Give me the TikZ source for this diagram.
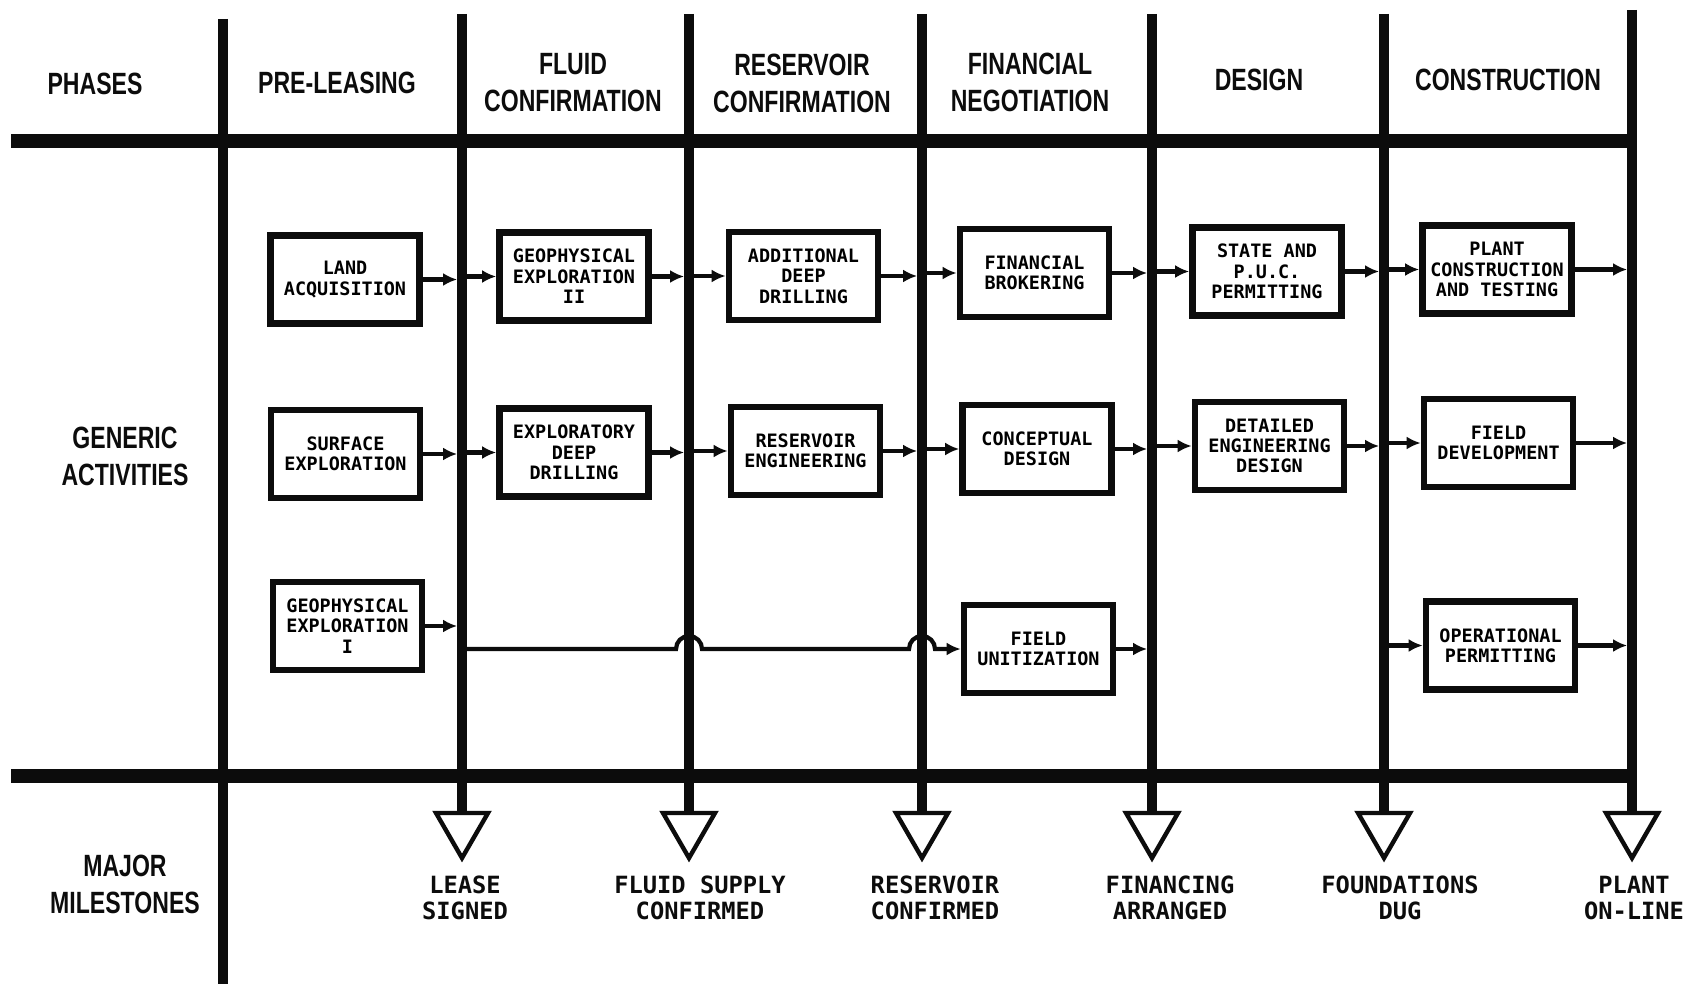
\documentclass[tikz,border=0pt]{standalone}
\usepackage{fontspec}
\usepackage{xcolor}
\usepackage{tikz}
\usetikzlibrary{arrows.meta,positioning,shapes.geometric,calc}
\newfontfamily\phfont[FakeStretch=0.75]{Liberation Sans}
\newfontfamily\actfont{DejaVu Sans Mono}
\definecolor{gtink}{RGB}{12,12,12}
\definecolor{gtpaper}{RGB}{255,255,255}
\tikzset{
  gtbox/.style={draw=gtink, line width=3.8pt, minimum width=2.98cm, minimum height=1.76cm,
    inner sep=1pt, align=center, fill=gtpaper,
    font=\actfont\bfseries\fontsize{10.5}{11.6}\selectfont},
  gtarrow/.style={-{Latex[length=2.8mm,width=2.6mm]}, line width=2.4pt, draw=gtink},
  gtline/.style={line width=5.6pt, draw=gtink},
  gtbar/.style={line width=7.8pt, draw=gtink},
  gthead/.style={align=center, text=gtink,
    font=\phfont\bfseries\fontsize{17.5}{21}\selectfont},
  gtmark/.style={regular polygon, regular polygon sides=3, shape border rotate=180,
    draw=gtink, line width=2.5pt, minimum size=1.2cm, inner sep=0pt},
  gtmile/.style={align=center, text=gtink,
    font=\actfont\bfseries\fontsize{13.5}{14.8}\selectfont}
}

\begin{document}
\begin{tikzpicture}
  \useasboundingbox[fill=gtpaper] (0,0) rectangle (33.90cm,-19.78cm);
  % phase lines and bars
  \coordinate (L0) at (4.46cm,-0.38cm);
  \coordinate (L0b) at (4.46cm,-19.68cm);
  \coordinate (L1) at (9.24cm,-0.28cm);
  \coordinate (L2) at (13.78cm,-0.28cm);
  \coordinate (L3) at (18.44cm,-0.28cm);
  \coordinate (L4) at (23.04cm,-0.28cm);
  \coordinate (L5) at (27.68cm,-0.28cm);
  \coordinate (L6) at (32.64cm,-0.20cm);
  \coordinate (topA) at (0.22cm,-2.82cm);
  \coordinate (topB) at (32.70cm,-2.82cm);
  \coordinate (botA) at (0.22cm,-15.52cm);
  \coordinate (botB) at (32.70cm,-15.52cm);

  % headings
  \node[gthead] (hPh) at (1.90cm,-1.68cm) {PHASES};
  \node[gthead] (hGa) at (2.50cm,-9.12cm) {GENERIC\\ACTIVITIES};
  \node[gthead] (hMm) at (2.50cm,-17.68cm) {MAJOR\\MILESTONES};
  \node[gthead] (pA) at (6.74cm,-1.66cm) {PRE-LEASING};
  \node[gthead] (pB) at (11.46cm,-1.66cm) {FLUID\\CONFIRMATION};
  \node[gthead] (pC) at (16.04cm,-1.66cm) {RESERVOIR\\CONFIRMATION};
  \node[gthead] (pD) at (20.60cm,-1.64cm) {FINANCIAL\\NEGOTIATION};
  \node[gthead] (pE) at (25.18cm,-1.60cm) {DESIGN};
  \node[gthead] (pF) at (30.16cm,-1.60cm) {CONSTRUCTION};

  % milestones
  \node[gtmark] (ms1) at (9.24cm,-16.56cm) {};
  \node[gtmark] (ms2) at (13.78cm,-16.56cm) {};
  \node[gtmark] (ms3) at (18.44cm,-16.56cm) {};
  \node[gtmark] (ms4) at (23.04cm,-16.56cm) {};
  \node[gtmark] (ms5) at (27.68cm,-16.56cm) {};
  \node[gtmark] (ms6) at (32.64cm,-16.56cm) {};
  \node[gtmile] (mt1) at (9.30cm,-17.96cm) {LEASE\\SIGNED};
  \node[gtmile] (mt2) at (14.00cm,-17.96cm) {FLUID SUPPLY\\CONFIRMED};
  \node[gtmile] (mt3) at (18.70cm,-17.96cm) {RESERVOIR\\CONFIRMED};
  \node[gtmile] (mt4) at (23.40cm,-17.96cm) {FINANCING\\ARRANGED};
  \node[gtmile] (mt5) at (28.00cm,-17.96cm) {FOUNDATIONS\\DUG};
  \node[gtmile] (mt6) at (32.68cm,-17.96cm) {PLANT\\ON-LINE};

  \draw[gtline] (L0) -- (L0b);
  \draw[gtline] (L1) -- (ms1.north);
  \draw[gtline] (L2) -- (ms2.north);
  \draw[gtline] (L3) -- (ms3.north);
  \draw[gtline] (L4) -- (ms4.north);
  \draw[gtline] (L5) -- (ms5.north);
  \draw[gtline] (L6) -- (ms6.north);
  \draw[gtbar] (topA) -- (topB);
  \draw[gtbar] (botA) -- (botB);

  % activities
  \node[gtbox] (landacq) at (6.90cm,-5.59cm) {LAND\\ACQUISITION};
  \node[gtbox] (geoii) at (11.48cm,-5.53cm) {GEOPHYSICAL\\EXPLORATION\\II};
  \node[gtbox] (adddrill) at (16.07cm,-5.52cm) {ADDITIONAL\\DEEP\\DRILLING};
  \node[gtbox] (finbrok) at (20.69cm,-5.46cm) {FINANCIAL\\BROKERING};
  \node[gtbox] (pucperm) at (25.34cm,-5.43cm) {STATE AND\\P.U.C.\\PERMITTING};
  \node[gtbox] (plantcon) at (29.94cm,-5.39cm) {PLANT\\CONSTRUCTION\\AND TESTING};
  \node[gtbox] (surfexp) at (6.91cm,-9.08cm) {SURFACE\\EXPLORATION};
  \node[gtbox] (expdrill) at (11.48cm,-9.05cm) {EXPLORATORY\\DEEP\\DRILLING};
  \node[gtbox] (reseng) at (16.11cm,-9.02cm) {RESERVOIR\\ENGINEERING};
  \node[gtbox] (concdes) at (20.74cm,-8.98cm) {CONCEPTUAL\\DESIGN};
  \node[gtbox] (detdes) at (25.39cm,-8.92cm) {DETAILED\\ENGINEERING\\DESIGN};
  \node[gtbox] (fielddev) at (29.97cm,-8.86cm) {FIELD\\DEVELOPMENT};
  \node[gtbox] (geoi) at (6.95cm,-12.52cm) {GEOPHYSICAL\\EXPLORATION\\I};
  \node[gtbox] (fieldunit) at (20.77cm,-12.98cm) {FIELD\\UNITIZATION};
  \node[gtbox] (opperm) at (30.01cm,-12.91cm) {OPERATIONAL\\PERMITTING};

  % row 1
  \draw[gtarrow, shorten >=2.8pt] (landacq.east) -- (landacq.east -| L1);
  \draw[gtarrow] (geoii.west -| L1) -- (geoii.west);
  \draw[gtarrow, shorten >=2.8pt] (geoii.east) -- (geoii.east -| L2);
  \draw[gtarrow] (adddrill.west -| L2) -- (adddrill.west);
  \draw[gtarrow, shorten >=2.8pt] (adddrill.east) -- (adddrill.east -| L3);
  \draw[gtarrow] (finbrok.west -| L3) -- (finbrok.west);
  \draw[gtarrow, shorten >=2.8pt] (finbrok.east) -- (finbrok.east -| L4);
  \draw[gtarrow] (pucperm.west -| L4) -- (pucperm.west);
  \draw[gtarrow, shorten >=2.8pt] (pucperm.east) -- (pucperm.east -| L5);
  \draw[gtarrow] (plantcon.west -| L5) -- (plantcon.west);
  \draw[gtarrow, shorten >=2.8pt] (plantcon.east) -- (plantcon.east -| L6);
  % row 2
  \draw[gtarrow, shorten >=2.8pt] (surfexp.east) -- (surfexp.east -| L1);
  \draw[gtarrow] (expdrill.west -| L1) -- (expdrill.west);
  \draw[gtarrow, shorten >=2.8pt] (expdrill.east) -- (expdrill.east -| L2);
  \draw[gtarrow] (reseng.west -| L2) -- (reseng.west);
  \draw[gtarrow, shorten >=2.8pt] (reseng.east) -- (reseng.east -| L3);
  \draw[gtarrow] (concdes.west -| L3) -- (concdes.west);
  \draw[gtarrow, shorten >=2.8pt] (concdes.east) -- (concdes.east -| L4);
  \draw[gtarrow] (detdes.west -| L4) -- (detdes.west);
  \draw[gtarrow, shorten >=2.8pt] (detdes.east) -- (detdes.east -| L5);
  \draw[gtarrow] (fielddev.west -| L5) -- (fielddev.west);
  \draw[gtarrow, shorten >=2.8pt] (fielddev.east) -- (fielddev.east -| L6);
  % row 3, hopping over the phase lines
  \draw[gtarrow, shorten >=2.8pt] (geoi.east) -- (geoi.east -| L1);
  \draw[gtarrow] (fieldunit.west -| L1)
    -- ($(fieldunit.west -| L2)+(-0.26cm,0)$) arc[start angle=180,end angle=0,radius=0.26cm]
    -- ($(fieldunit.west -| L3)+(-0.26cm,0)$) arc[start angle=180,end angle=0,radius=0.26cm]
    -- (fieldunit.west);
  \draw[gtarrow, shorten >=2.8pt] (fieldunit.east) -- (fieldunit.east -| L4);
  \draw[gtarrow] (opperm.west -| L5) -- (opperm.west);
  \draw[gtarrow, shorten >=2.8pt] (opperm.east) -- (opperm.east -| L6);
\end{tikzpicture}
\end{document}
